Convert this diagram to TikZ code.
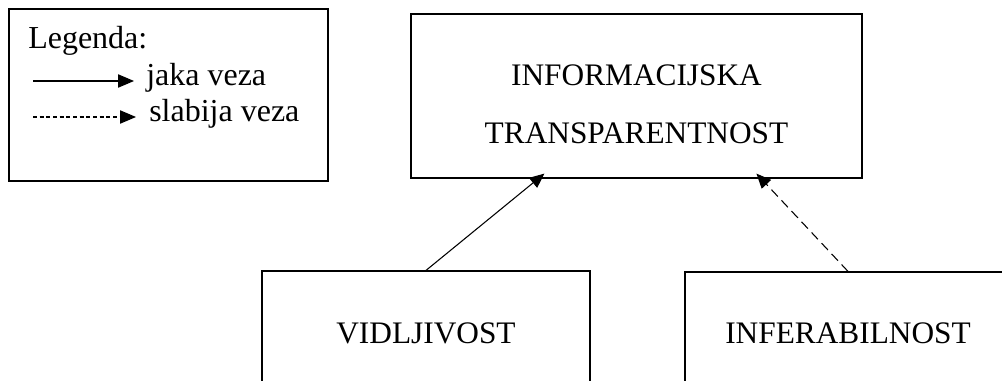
\documentclass[tikz,border=0pt]{standalone}
\usepackage{fontspec}
\setmainfont{Liberation Serif}
\usetikzlibrary{arrows.meta,calc}
\begin{document}
\begin{tikzpicture}[x=0.75pt,y=-0.75pt,
  box/.style={draw, line width=0.9pt, inner sep=0pt},
  txt/.style={inner sep=0pt, font=\fontsize{23.5}{28}\selectfont},
  legtxt/.style={inner sep=0pt, font=\fontsize{24}{28}\selectfont},
  tip/.style={-{Triangle[length=11pt,width=9.5pt]}},
  strong/.style={line width=0.8pt, tip},
  weak/.style={line width=0.8pt, dash pattern=on 7pt off 4pt, tip},
  legstrong/.style={line width=0.8pt, -{Triangle[length=12pt,width=10pt]}},
  legweak/.style={line width=0.8pt, dash pattern=on 3pt off 2pt, -{Triangle[length=12pt,width=10pt]}},
]
\useasboundingbox (0,0) rectangle (1002,381);
\clip (0,0) rectangle (1002,381);
\fill[white] (0,0) rectangle (1002,381);

% legend
\node[box, minimum width=239.25pt, minimum height=129pt] (legend) at (168.5,95) {};
\node[legtxt, anchor=base west] (legtitle) at (28,49) {Legenda:};
\coordinate (s1) at (33,81);
\coordinate (e1) at (134,81);
\coordinate (s2) at (33,117);
\coordinate (e2) at (136,117);
\draw[legstrong] (s1) -- (e1);
\draw[legweak] (s2) -- (e2);
\node[legtxt, anchor=base west] (jaka) at (146,86) {jaka veza};
\node[legtxt, anchor=base west] (slabija) at (149,122) {slabija veza};

% main boxes
\node[box, minimum width=338.25pt, minimum height=123pt] (info) at (636.5,96) {};
\node[txt, anchor=base] (infot1) at (636.5,86) {INFORMACIJSKA};
\node[txt, anchor=base] (infot2) at (636.5,143) {TRANSPARENTNOST};

\node[box, minimum width=246pt, minimum height=93pt] (vid) at (426,333) {};
\node[txt, anchor=base] (vidt) at (426,343) {VIDLJIVOST};

\node[box, minimum width=244.5pt, minimum height=93pt] (inf) at (848,334) {};
\node[txt, anchor=base] (inft) at (848,343) {INFERABILNOST};

% connectors
\draw[strong] (vid.north) -- ($(info.south west)+(134,-5)$);
\draw[weak] (inf.north) -- ($(info.south west)+(346,-5)$);
\end{tikzpicture}
\end{document}
